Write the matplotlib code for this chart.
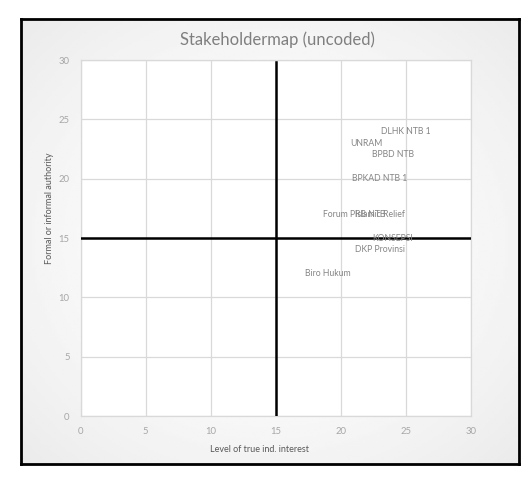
import numpy as np
import matplotlib.pyplot as plt

# stakeholder positions (interest, authority)
names = ["DLHK NTB 1", "UNRAM", "BPBD NTB", "BPKAD NTB 1", "Forum PRB NTB",
         "Islamic Relief", "KONSEPSI", "DKP Provinsi", "Biro Hukum"]
interest = [25, 22, 24, 23, 21, 23, 24, 23, 19]
authority = [24, 23, 22, 20, 17, 17, 15, 14, 12]
ticks = [0, 5, 10, 15, 20, 25, 30]

plt.rcParams['font.family'] = ['Lato', 'DejaVu Sans']

W, H = 529, 479
fig = plt.figure(figsize=(W / 100, H / 100), dpi=100)
fig.patch.set_facecolor('white')

# chart area with soft gradient + black border
bx0, bx1, by0, by1 = 21 / W, 519 / W, 1 - 464 / H, 1 - 19 / H
bg = fig.add_axes([bx0, by0, bx1 - bx0, by1 - by0])
yy, xx = np.mgrid[-1:1:200j, -1:1:200j]
r = np.clip(np.sqrt(xx ** 2 + yy ** 2) / 1.41, 0, 1)
bg.imshow(1 - 0.08 * r ** 1.6, cmap='gray', vmin=0, vmax=1, aspect='auto',
          extent=[0, 1, 0, 1])
bg.set_xlim(0, 1)
bg.set_ylim(0, 1)
bg.set_xticks([])
bg.set_yticks([])
for s in bg.spines.values():
    s.set_color('black')
    s.set_linewidth(2)

# plot area
px0, px1, py0, py1 = 80.7 / W, 470.7 / W, 1 - 416 / H, 1 - 60 / H
ax = fig.add_axes([px0, py0, px1 - px0, py1 - py0])
ax.set_facecolor('white')
ax.set_xlim(0, 30)
ax.set_ylim(0, 30)
ax.set_xticks(ticks)
ax.set_yticks(ticks)
ax.grid(True, color='#d9d9d9', linewidth=0.9)
for s in ax.spines.values():
    s.set_color('#d9d9d9')
    s.set_linewidth(0.9)
ax.tick_params(length=0, labelsize=6.8, labelcolor='#a6a6a6')
ax.tick_params(axis='x', pad=8)
ax.tick_params(axis='y', pad=8)

# quadrant lines
ax.plot([15, 15], [0, 29.8], color='black', linewidth=1.8, zorder=3)
ax.plot([0, 30], [15, 15], color='black', linewidth=1.8, zorder=3)

for n, xv, yv in zip(names, interest, authority):
    ax.text(xv, yv, n, ha='center', va='center', fontsize=6.2,
            color='#858585', zorder=4)

fig.text(277 / W, 1 - 40 / H, "Stakeholdermap (uncoded)", ha='center',
         va='center', fontsize=12, color='#7f7f7f')
fig.text(260 / W, 1 - 450 / H, "Level of true ind. interest", ha='center',
         va='center', fontsize=6.5, color='#595959')
fig.text(49 / W, 1 - 208 / H, "Formal or informal authority", ha='center',
         va='center', fontsize=6.5, color='#595959', rotation=90)

plt.savefig('out.png', dpi=100)
